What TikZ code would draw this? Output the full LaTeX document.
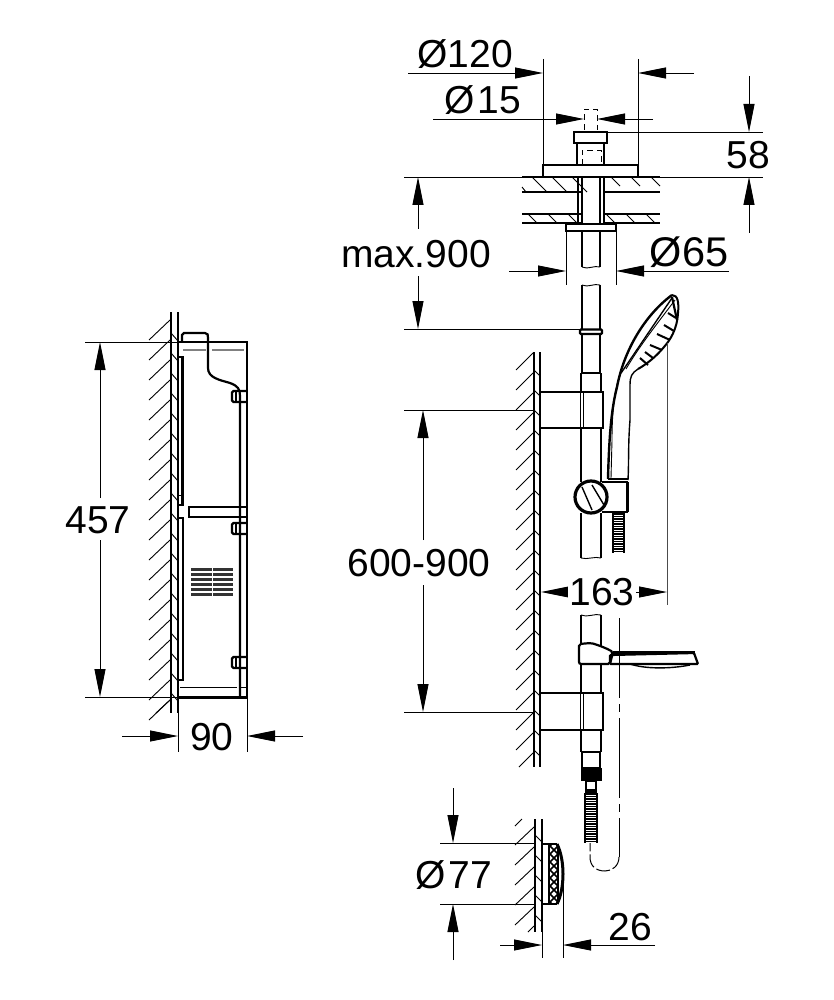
\documentclass[tikz,border=0pt]{standalone}
\usepackage{fontspec}
\setmainfont{Liberation Sans}
\usetikzlibrary{arrows.meta}
\tikzset{
  thn/.style={line width=0.9pt,black},
  thk/.style={line width=2.2pt,black},
  med/.style={line width=1.4pt,black},
  dimhead/.style={-{Triangle[length=28pt,width=11pt]},line width=0.9pt},
  lab/.style={font=\fontsize{39}{39}\selectfont,inner sep=0pt,anchor=center},
  dashthin/.style={line width=0.9pt,dash pattern=on 6pt off 4pt},
  center line/.style={line width=1pt,dash pattern=on 80pt off 6pt on 8pt off 6pt},
  hose line/.style={line width=1pt,dash pattern=on 14pt off 3pt}
}
\begin{document}
\begin{tikzpicture}[x=1pt,y=-1pt]
\useasboundingbox (0,0) rectangle (833,1000);
% ===== left: cabinet =====
\draw[thk] (171,312) -- (171,713);
\draw[thk] (178,312) -- (178,713);
\foreach \y in {320,340,...,700} \draw[thn] (170,\y) -- (149,\y+20);
\draw[thn] (170,700) -- (156,713);
\foreach \y in {333,353,...,693} \draw[thn] (171,\y) -- (178,\y+8);
\draw[thk] (178,342) -- (247,342) -- (247,697);
\draw[line width=3pt] (178,697) -- (247,697);
\draw[thk] (182,342) -- (182,335) -- (184,333) -- (205,333) .. controls (208,333) and (208,335) .. (208,338)
   -- (208,368) .. controls (208,378) and (220,380) .. (230,383) .. controls (238,386) and (240,389) .. (240,396) -- (240,697);
\draw[line width=1.2pt,gray] (183,350) -- (206,350) (212,350) -- (244,350);
\draw[thk] (178,357) -- (182.5,357) -- (182.5,505) -- (178,505);
\draw[thn] (178,495) -- (182,495);
\draw[thk] (178,518) -- (183,518) -- (183,680) -- (178,680);
\draw[thn] (180,687) -- (237,687) (241,687) -- (247,687);
\foreach \y in {391,523,657} {
  \draw[thk,rounded corners=1.5pt] (247,\y) -- (232,\y) -- (232,\y+11) -- (247,\y+11);
  \draw[med] (236,\y) -- (236,\y+11);
}
\draw[med] (247,507) -- (189,507) -- (189,517) -- (247,517);
\foreach \y in {569.5,574.5,...,599} \draw[line width=3.4pt,black!80] (191,\y) -- (233,\y);
\draw[white,line width=0.8pt] (212,568) -- (212,600);
% dims left
\draw[thn] (85,342) -- (178,342);
\draw[thn] (85,697) -- (178,697);
\draw[thn] (178,697) -- (178,752);
\draw[thn] (247,697) -- (247,752);
\draw[dimhead] (100,498) -- (100,342);
\draw[dimhead] (100,540) -- (100,697);
\draw[dimhead] (122,736) -- (178,736);
\draw[dimhead] (303,736) -- (247,736);
\node[lab] (l457) at (98,520) {457};
\node[lab] (l90) at (212,737) {90};
% ===== top: ceiling mount =====
\foreach \a/\b in {522/582,603/660} {
  \draw[thk] (\a,177) -- (\b,177);
  \draw[thk] (\a,192) -- (\b,192);
  \draw[thk] (\a,214) -- (\b,214);
  \draw[thk] (\a,223) -- (\b,223);
}
\foreach \x in {532,552,572} \draw[thn] (\x,177) -- (\x+15,192);
\foreach \x in {611,631,651} \draw[thn] (\x,177) -- (\x+9,186);
\draw[thn] (522,187) -- (526,192);
\foreach \x in {528,548,568} \draw[thn] (\x,214) -- (\x+9,223);
\foreach \x in {606,626,646} \draw[thn] (\x,214) -- (\x+9,223);
\draw[thk] (543,177) -- (543,165) -- (638,165) -- (638,177) -- cycle;
\draw[thk] (574,143) rectangle (607,132);
\draw[thk] (577,143) -- (577,165) (604,143) -- (604,165);
\draw[dashthin] (582,165) -- (582,150) -- (601,150) -- (601,165);
\draw[dashthin] (584,130) -- (584,109) -- (597,109) -- (597,130);
\draw[thk] (582,177) -- (582,267);
\draw[thk] (600,177) -- (600,267);
\draw[med] (578,177) -- (578,223) (604,177) -- (604,223);
\draw[thn] (582,267) .. controls (588,270) and (594,265) .. (600,267);
\draw[med] (566,224) rectangle (616,231);
\fill[white] (567,225) rectangle (615,230);
% dims top
\draw[thn] (543,59) -- (543,165);
\draw[thn] (638,59) -- (638,165);
\draw[dimhead] (408,73) -- (543,73);
\draw[dimhead] (694,73) -- (638,73);
\draw[dimhead] (433,119) -- (584,119);
\draw[dimhead] (653,119) -- (597,119);
\draw[thn] (607,132) -- (763,132);
\draw[thn] (638,177) -- (763,177);
\draw[thn] (404,177) -- (543,177);
\draw[dimhead] (749,76) -- (749,132);
\draw[dimhead] (749,233) -- (749,177);
\draw[dimhead] (418,229) -- (418,177);
\draw[dimhead] (418,276) -- (418,329);
\draw[thn] (404,329) -- (581,329);
\draw[thn] (566,231) -- (566,285) (616,231) -- (616,285);
\draw[dimhead] (509,271) -- (566,271);
\draw[dimhead] (729,271) -- (616,271);
\node[lab] (d120) at (465,54) {Ø120};
\node[lab] (d15) at (483,100) {\spaceskip=3pt Ø 15};
\node[lab] (l58) at (748,155) {58};
\node[lab,font=\fontsize{41.5}{41.5}\selectfont] (d65) at (689,252) {Ø65};
\node[lab] (lmax) at (416,254) {max.900};
% ===== rail =====
\draw[thn] (582,285) .. controls (588,288) and (594,283) .. (600,285);
\draw[thk] (582,285) -- (582,373) (600,285) -- (600,373);
\draw[thk] (581,373) -- (581,482) (601,373) -- (601,482);
\draw[thk] (581,373) -- (601,373);
\fill[white] (581,329) rectangle (602,334);
\draw[thk,rounded corners=1pt] (580,329.5) rectangle (602,334);
% wall
\draw[thk] (534,352) -- (534,767);
\draw[thk] (540,352) -- (540,767);
\foreach \y in {353,373,...,733} \draw[thn] (533,\y) -- (516,\y+17);
\draw[thn] (533,753) -- (519,767);
\foreach \y in {370,390,...,750} \draw[thn] (534,\y) -- (540,\y+6);
\draw[thn] (404,410) -- (534,410);
\draw[thn] (404,712) -- (534,712);
% bracket
\fill[white] (541,392) rectangle (603,428);
\draw[thk] (541,392) -- (603,392) -- (603,428) -- (541,428);
\draw[thn] (580,392) -- (580,428) (583,392) -- (583,428);
% knob and holder
\draw[thk] (602,482) -- (627,482) -- (627,512) -- (602,512);
\draw[line width=3pt] (627,482) -- (627,512);
\draw[line width=3.2pt,fill=white] (591,497) circle (16);
\draw[med] (582,487) -- (592,510) (592,485) -- (604,505);
\draw[thk] (581,513) -- (581,558) (601,513) -- (601,558);
\draw[thn] (581,558) .. controls (587,560) and (595,556) .. (601,558);
% hose
\foreach \y in {514,516.5,...,553} \draw[line width=1.6pt] (613,\y) -- (624,\y);
\draw[med] (613,513) -- (613,553) (624,513) -- (624,553);
% hand shower
\draw[line width=2.4pt] (608,479) .. controls (609,440) and (611,410) .. (617,387)
  .. controls (624,350) and (645,315) .. (672,295);
\draw[line width=2pt] (672,295) .. controls (678,295) and (679,303) .. (678,313)
  .. controls (677,330) and (670,340) .. (664,347) .. controls (655,358) and (645,365) .. (638,369);
\draw[med] (621,373) .. controls (622,372) and (640,345) .. (672,298);
\draw[thn] (626,369) .. controls (640,345) and (660,320) .. (675,300);
\draw[med] (638,369) .. controls (632,373) and (630,376) .. (630,385) -- (630,420);
\draw[med] (630,420) .. controls (628,445) and (629,460) .. (628,480);
\draw[thn] (621,373) .. controls (615,385) and (612,410) .. (612,440) -- (611,478);
\draw[thk] (608,479) -- (628,479);
\foreach \a/\b/\c/\d in {668/313/676/318,664/325/674/331,657/334/670/340,650/345/662/350,645/352/653/358,640/358/648/365}
  \draw[line width=2pt] (\a,\b) -- (\c,\d);
\draw[thk] (672,297) -- (677,320);
% 163
\draw[line width=1pt,black!70] (667,343) -- (667,605);
\draw[dimhead] (578,592) -- (541,592);
\draw[dimhead] (628,592) -- (667,592);
\node[lab,fill=white,inner xsep=1pt] (l163) at (602,592) {163};
% lower rail
\draw[center line] (619,618) -- (619,857);
\draw[hose line] (619,857) .. controls (619,866) and (612,871) .. (605,871) .. controls (596,871) and (590,866) .. (590,857) -- (590,843);
\draw[thn] (581,615) .. controls (587,618) and (595,613) .. (601,615);
\draw[thk] (581,615) -- (581,752) (601,615) -- (601,752);
\fill[white] (581,693) rectangle (604,730);
\draw[thk] (541,693) -- (603,693) -- (603,730) -- (541,730);
\draw[thn] (580,693) -- (580,730) (583,693) -- (583,730);
% soap dish
\draw[thk,fill=white,rounded corners=2pt] (579,644) -- (591,643) .. controls (598,645) and (606,648) .. (613,652) -- (610,664) -- (579,664) -- cycle;
\draw[med] (630,664) .. controls (645,669) and (670,669) .. (690,665);
\draw[thk,rounded corners=1pt] (610,664) -- (610,655) -- (694,653) -- (698,664) -- cycle;
\draw[line width=3pt] (613,652.5) -- (695,652.5);
% hose end
\draw[thk] (582,752) rectangle (600,768);
\fill (581,768) rectangle (602,781);
\draw[med] (586,781) rectangle (596,793);
\fill (587,789) rectangle (595,793);
\foreach \y in {794,796.5,...,843} \draw[line width=1.6pt] (585,\y) -- (597,\y);
\draw[med] (585,793) -- (585,843) (597,793) -- (597,843);
% ===== bottom: wall outlet =====
\draw[thk] (535,819) -- (535,932);
\draw[thk] (542,819) -- (542,932);
\foreach \y in {827,847,867,887,907} \draw[thn] (534,\y) -- (515,\y+18);
\draw[thn] (522,819) -- (515,826);
\draw[thn] (534,926) -- (528,932);
\foreach \y in {835,855,875,895,915} \draw[thn] (535,\y) -- (542,\y+7);
\begin{scope}
\clip (550,845) rectangle (558,903);
\foreach \y in {830,838,...,910} {
  \draw[line width=1.6pt] (550,\y) -- (566,\y+16);
  \draw[line width=1.6pt] (558,\y) -- (542,\y+16);
}
\end{scope}
\draw[thk] (542,844) -- (557,844) (542,904) -- (557,904);
\draw[thk] (549,844) -- (549,904);
\draw[line width=3pt] (557,844) .. controls (565,860) and (565,888) .. (557,904);
\draw[line width=1.2pt] (558,844) -- (558,904);
\draw[thn] (440,843) -- (535,843);
\draw[thn] (440,904) -- (535,904);
\draw[thn] (542,932) -- (542,958);
\draw[thn] (563,880) -- (563,958);
\draw[dimhead] (453,788) -- (453,843);
\draw[dimhead] (453,960) -- (453,904);
\draw[dimhead] (500,945) -- (542,945);
\draw[dimhead] (655,945) -- (563,945);
\node[lab] (d77) at (454,875) {\spaceskip=3pt Ø 77};
\node[lab] (l26) at (630,927) {26};
\node[lab] (l600) at (419,563) {600-900};
\draw[dimhead] (423,540) -- (423,410);
\draw[dimhead] (423,585) -- (423,712);
\end{tikzpicture}
\end{document}
